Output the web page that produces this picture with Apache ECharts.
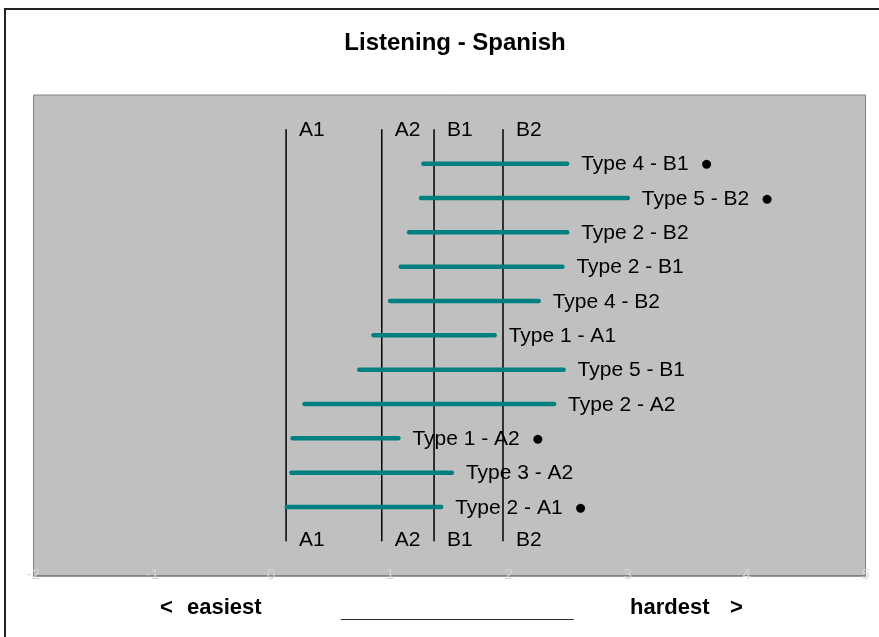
<!DOCTYPE html>
<html>
<head>
<meta charset="utf-8">
<script src="https://cdn.jsdelivr.net/npm/echarts@6/dist/echarts.min.js"></script>
<style>
  html, body { margin: 0; padding: 0; background: #fff; }
  #chart { width: 879px; height: 637px; }
</style>
</head>
<body>
<div id="chart"></div>
<script>
// task rows, bottom to top
const taskNames = ['Type 2 - A1  ●', 'Type 3 - A2', 'Type 1 - A2  ●', 'Type 2 - A2', 'Type 5 - B1', 'Type 1 - A1',
    'Type 4 - B2', 'Type 2 - B1', 'Type 2 - B2', 'Type 5 - B2  ●', 'Type 4 - B1  ●']
const taskRows = [2, 3, 4, 5, 6, 7, 8, 9, 10, 11, 12]
const taskStart = [0.13, 0.17, 0.18, 0.28, 0.74, 0.86, 1.00, 1.09, 1.16, 1.26, 1.28]
const taskEnd = [1.43, 1.52, 1.07, 2.38, 2.46, 1.88, 2.25, 2.45, 2.49, 3.00, 2.49]

// CEFR level cut lines
const levelNames = ['A1', 'A2', 'B1', 'B2']
const levelValues = [0.125, 0.93, 1.37, 1.95]
const levelBottom = 1
const levelTop = 13

const xTicks = [-2, -1, 0, 1, 2, 3, 4, 5]

const font = '"Liberation Sans", Arial, sans-serif'

const taskData = taskNames.map((n, i) => [taskStart[i], taskEnd[i], taskRows[i], n])
const levelData = levelNames.map((n, i) => [levelValues[i], levelBottom, levelTop, n])

const myChart = echarts.init(document.getElementById('chart'))
const option = {
    animation: false,
    title: {
        text: 'Listening - Spanish',
        left: 450,
        top: 26,
        textAlign: 'center',
        textStyle: { fontFamily: font, fontSize: 24, fontWeight: 'bold', color: '#000' }
    },
    grid: {
        left: 33.5,
        right: 13.5,
        top: 95,
        bottom: 61.3,
        show: true,
        backgroundColor: '#c0c0c0',
        borderColor: '#808080',
        borderWidth: 1
    },
    xAxis: {
        type: 'value',
        min: xTicks[0],
        max: xTicks[xTicks.length - 1],
        interval: 1,
        splitLine: { show: false },
        axisTick: { show: false },
        axisLine: { lineStyle: { color: '#808080', width: 1.5 } },
        axisLabel: { color: '#d4d4d4', fontFamily: font, fontSize: 15, margin: -8 }
    },
    yAxis: {
        type: 'value',
        min: 0,
        max: 14,
        show: false
    },
    graphic: [
        {
            type: 'rect',
            shape: { x: 5, y: 9, width: 1000, height: 1000 },
            style: { fill: 'none', stroke: '#222', lineWidth: 2 },
            z: 100
        },
        {
            type: 'text', left: 160, top: 597,
            style: { text: '<', font: 'bold 22px ' + font, fill: '#000' }
        },
        {
            type: 'text', left: 187, top: 597,
            style: { text: 'easiest', font: 'bold 22px ' + font, fill: '#000' }
        },
        {
            type: 'text', left: 341, top: 600,
            style: { text: '___________________', font: 'bold 22px ' + font, fill: '#000' }
        },
        {
            type: 'text', left: 630, top: 597,
            style: { text: 'hardest', font: 'bold 22px ' + font, fill: '#000' }
        },
        {
            type: 'text', left: 730, top: 597,
            style: { text: '>', font: 'bold 22px ' + font, fill: '#000' }
        }
    ],
    series: [
        {
            type: 'custom',
            data: levelData,
            z: 2,
            renderItem (params, api) {
                const p0 = api.coord([api.value(0), api.value(1)])
                const p1 = api.coord([api.value(0), api.value(2)])
                const name = levelNames[params.dataIndex]
                const txt = (y) => ({
                    type: 'text',
                    style: {
                        text: name, x: p0[0] + 13, y: y,
                        verticalAlign: 'middle', font: '21px ' + font, fill: '#000'
                    }
                })
                return {
                    type: 'group',
                    children: [
                        {
                            type: 'line',
                            shape: { x1: p0[0], y1: p0[1], x2: p1[0], y2: p1[1] },
                            style: { stroke: '#000', lineWidth: 1.5 }
                        },
                        txt(p1[1] + 1),
                        txt(p0[1] - 1)
                    ]
                }
            }
        },
        {
            type: 'custom',
            data: taskData,
            z: 3,
            renderItem (params, api) {
                const a = api.coord([api.value(0), api.value(2)])
                const b = api.coord([api.value(1), api.value(2)])
                return {
                    type: 'group',
                    children: [
                        {
                            type: 'line',
                            shape: { x1: a[0], y1: a[1], x2: b[0], y2: b[1] },
                            style: { stroke: '#008080', lineWidth: 4.5, lineCap: 'round' }
                        },
                        {
                            type: 'text',
                            style: {
                                text: taskNames[params.dataIndex], x: b[0] + 14, y: b[1] + 1,
                                verticalAlign: 'middle', font: '21px ' + font, fill: '#000'
                            }
                        }
                    ]
                }
            }
        }
    ]
}
myChart.setOption(option)
</script>
</body>
</html>
